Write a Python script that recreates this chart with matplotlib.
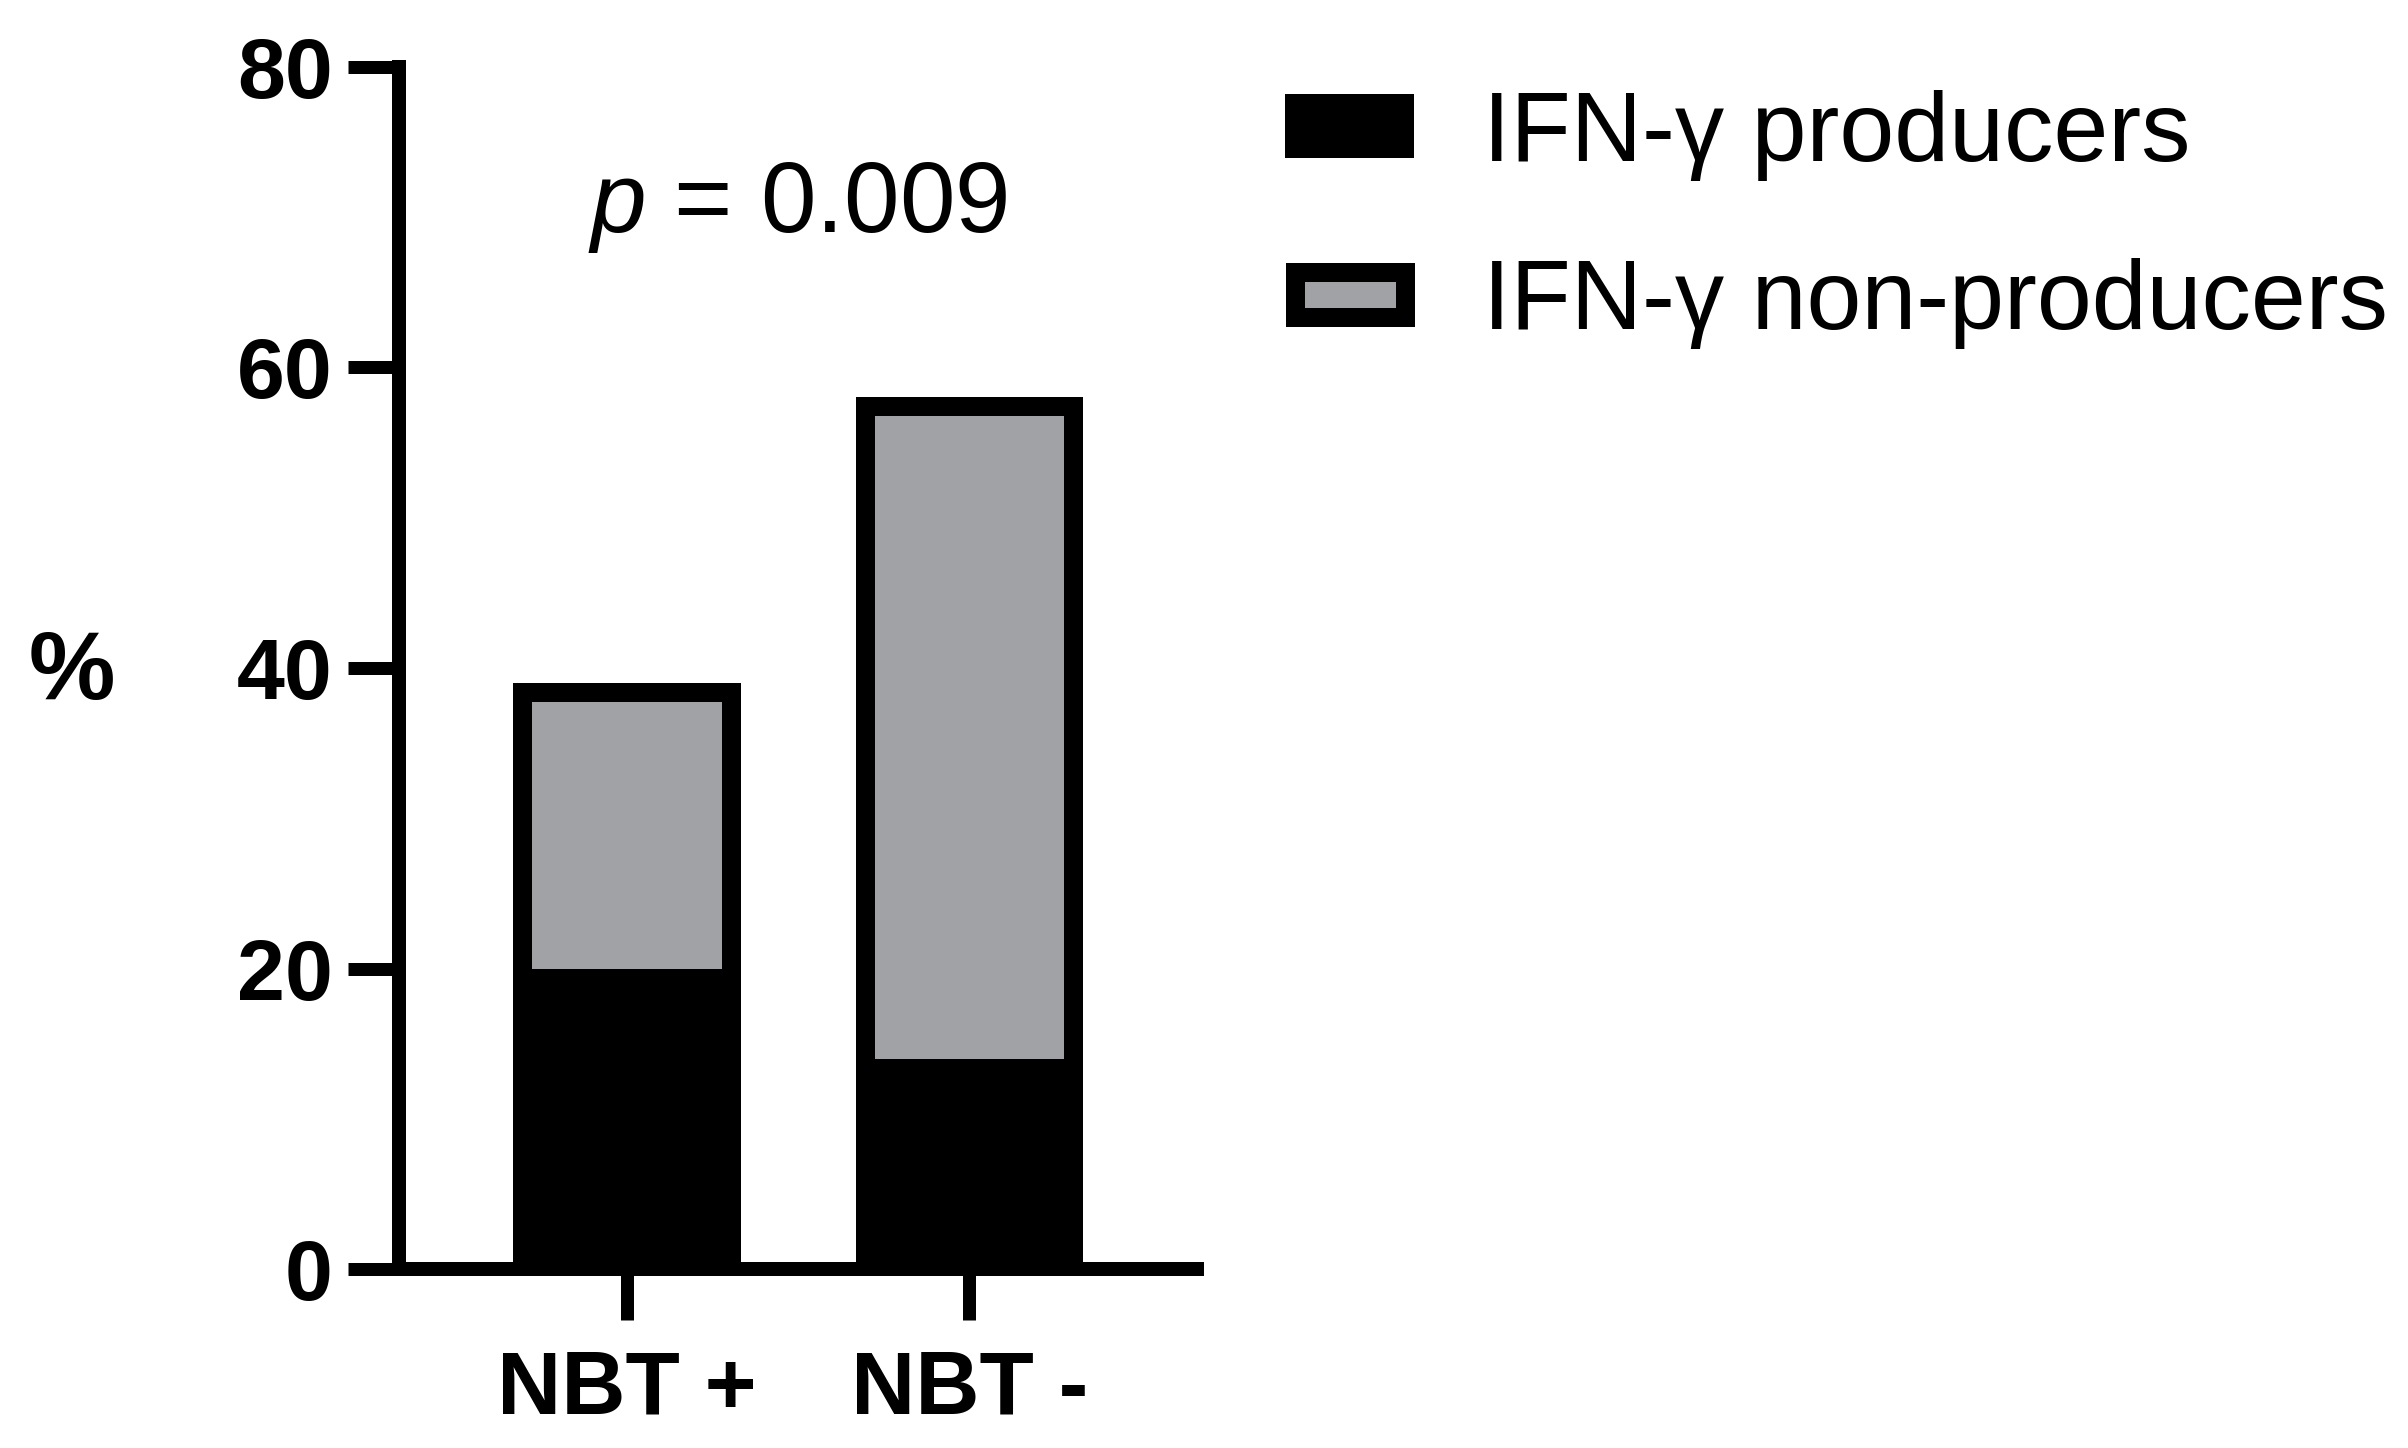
import matplotlib
matplotlib.use('Agg')
import matplotlib.pyplot as plt
import numpy as np
from matplotlib.patches import Patch, Rectangle
from matplotlib.legend_handler import HandlerPatch

# data (% of patients)
groups = ['NBT +', 'NBT -']
producers = [20, 14]
non_producers = [19, 44]
y_ticks = [0, 20, 40, 60, 80]
p_text = '0.009'

GRAY = '#a1a2a6'
PX = 72 / 100  # points per pixel at dpi 100

plt.rcParams['font.family'] = ['Liberation Sans', 'DejaVu Sans']
plt.rcParams['mathtext.fontset'] = 'custom'
plt.rcParams['mathtext.it'] = 'Liberation Sans:italic'
plt.rcParams['mathtext.rm'] = 'Liberation Sans'

fig = plt.figure(figsize=(24.08, 14.48), dpi=100)
ax = fig.add_axes([0.1657, 0.12341, 0.33156, 0.83052])

x = np.arange(len(groups))
tot = np.array(producers) + np.array(non_producers)
width = 0.665
border = 19 * PX

ax.bar(x, non_producers, width, bottom=producers, color=GRAY, linewidth=0)
ax.bar(x, producers, width, color='black', linewidth=0)
# outline of whole stack, stroke kept inside the bar
outline = ax.bar(x, tot, width, fill=False, edgecolor='black', linewidth=2 * border)
for r in outline:
    r.set_joinstyle('miter')
    r.set_clip_path(r)

ax.set_xlim(-0.666, 1.666)
ax.set_ylim(0, 80)
ax.set_yticks(y_ticks)
ax.set_xticks(x)
ax.set_xticklabels(groups)

for s in ['top', 'right']:
    ax.spines[s].set_visible(False)
for s in ['left', 'bottom']:
    ax.spines[s].set_linewidth(14 * PX)
ax.tick_params(axis='both', length=51 * PX, width=13 * PX, labelsize=62)
ax.tick_params(axis='y', pad=11)
ax.tick_params(axis='x', pad=20, labelsize=64)
for lab in ax.get_xticklabels() + ax.get_yticklabels():
    lab.set_fontweight('bold')

ax.set_ylabel('%', rotation=0, fontsize=70, fontweight='bold', va='center', ha='center')
ax.yaxis.set_label_coords(-0.41, 0.495)

ax.text(0.5, 69, '$\\it{p}$ = ' + p_text, fontsize=72, ha='center', va='baseline')


def inset_box(legend, orig_handle, xdescent, ydescent, width, height, fontsize):
    lw = orig_handle.get_linewidth()
    return Rectangle((-xdescent + lw / 2, -ydescent + lw / 2), width - lw, height - lw)


handles = [Patch(facecolor='black', edgecolor='black', linewidth=0),
           Patch(facecolor=GRAY, edgecolor='black', linewidth=border)]
labels = ['IFN-γ producers', 'IFN-γ non-producers']
fig.legend(handles, labels, loc='upper left', bbox_to_anchor=(1285 / 2408, 1 - 90 / 1448),
           frameon=False, fontsize=71, borderpad=0, borderaxespad=0,
           handlelength=1.31, handleheight=0.62,
           handletextpad=0.7, labelspacing=0.78,
           handler_map={Patch: HandlerPatch(patch_func=inset_box)})

fig.savefig('out.png', dpi=100)
